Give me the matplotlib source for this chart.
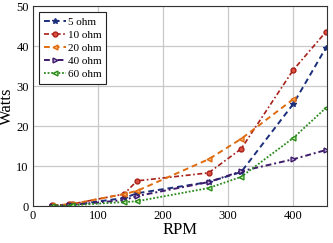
import matplotlib
matplotlib.use("Agg")
import matplotlib.pyplot as plt

plt.rcParams['font.family'] = ['Liberation Serif', 'DejaVu Serif']

# RPM values
rpm = [30, 55, 60, 140, 160, 270, 320, 400, 450]
rpm_20 = [30, 55, 60, 140, 160, 270, 320, 400]

# power (Watts) per load
w_5 = [0.1, 0.2, 0.3, 2.0, 3.2, 6.0, 8.5, 25.5, 39.5]
w_10 = [0.2, 0.4, 0.5, 3.0, 6.3, 8.3, 14.3, 34.0, 43.5]
w_20 = [0.2, 0.4, 0.5, 3.0, 3.8, 11.7, 16.8, 26.7]
w_40 = [0.1, 0.2, 0.3, 1.5, 2.5, 6.0, 8.7, 11.7, 14.0]
w_60 = [0.1, 0.1, 0.2, 1.0, 1.2, 4.5, 7.3, 17.0, 24.5]

fig = plt.figure(figsize=(3.33, 2.43), dpi=100)
ax = fig.add_axes([0.099, 0.152, 0.883, 0.823])

ax.plot(rpm, w_5, color='#1c2f7a', ls=(0, (3, 2)), marker='*', ms=4, lw=1.4, label='5 ohm')
ax.plot(rpm, w_10, color='#a8201a', ls=(0, (3, 1.5, 1, 1.5)), marker='o', ms=3.5,
        mfc='#e05040', lw=1.2, label='10 ohm')
ax.plot(rpm_20, w_20, color='#e06c10', ls=(0, (3, 2)), marker='<', ms=3.5,
        mfc='#f5b070', lw=1.4, label='20 ohm')
ax.plot(rpm, w_40, color='#3e1a6a', ls=(0, (3, 1.5, 1, 1.5)), marker='>', ms=3.5,
        mfc='#c0b0e0', lw=1.4, label='40 ohm')
ax.plot(rpm, w_60, color='#2a8a1a', ls=(0, (1, 1)), marker='<', ms=3.5,
        mfc='#c8f0b0', lw=1.3, label='60 ohm')

ax.set_xlim(0, 452)
ax.set_ylim(0, 50)
ax.set_xticks([0, 100, 200, 300, 400])
ax.set_yticks([0, 10, 20, 30, 40, 50])
ax.grid(True, color='#c8c8c8', lw=0.9)
ax.set_axisbelow(True)
for sp in ax.spines.values():
    sp.set_color('#333333')
ax.tick_params(direction='in', labelsize=9, length=0, pad=3)
ax.set_xlabel('RPM', fontsize=12, labelpad=0)
ax.set_ylabel('Watts', fontsize=12, labelpad=1)

leg = ax.legend(loc='upper left', fontsize=8, handlelength=2.0, handletextpad=0.2,
                labelspacing=0.3, borderpad=0.4, borderaxespad=0.3, fancybox=False,
                framealpha=1, bbox_to_anchor=(0.01, 0.985))
leg.get_frame().set_edgecolor('#222222')
leg.get_frame().set_linewidth(0.8)

fig.savefig('out.png', dpi=100)
